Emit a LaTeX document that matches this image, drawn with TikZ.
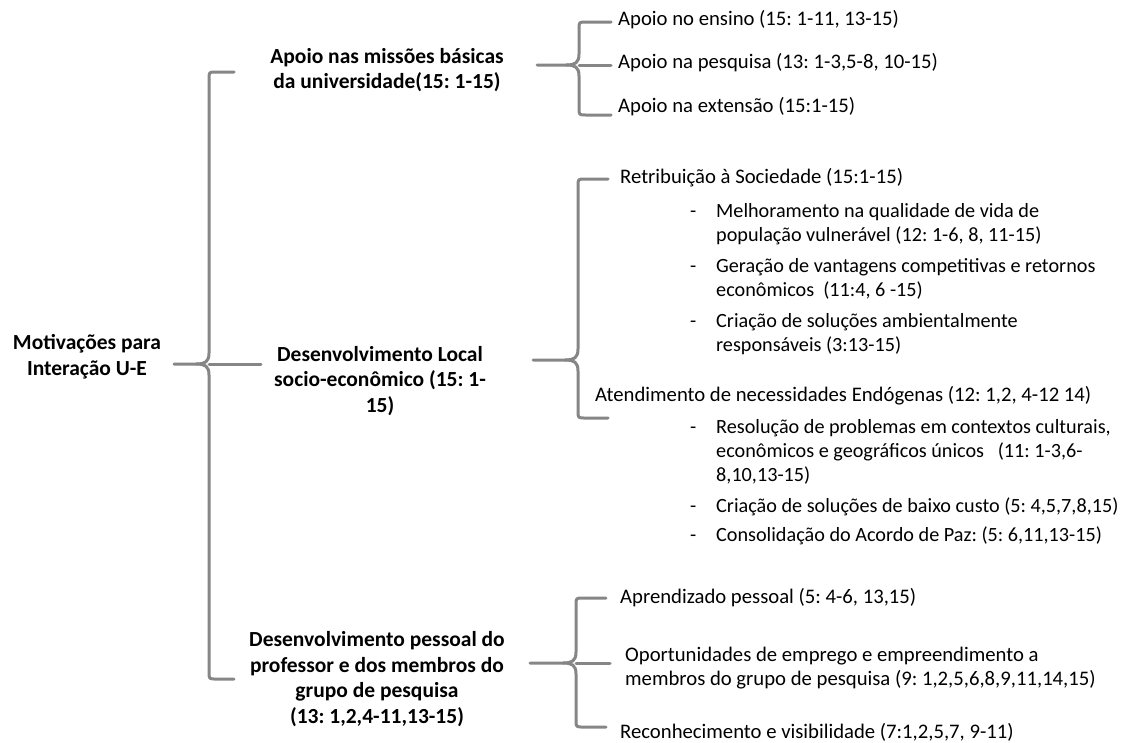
\documentclass[tikz,border=0pt]{standalone}
\usepackage{fontspec}
\setmainfont{Carlito}
\frenchspacing
\definecolor{brgray}{HTML}{868686}
\newcommand\dashitem[1]{\begin{tabular}[c]{@{}p{26pt}@{}l@{}}-&#1\end{tabular}}
% v, top, m, bot, hook x, stub x
\newcommand\curlybr[6]{%
 \draw[br] (#5,#2) -- (#1+7,#2) .. controls (#1,#2) .. (#1,#2+7) -- (#1,#3-11) .. controls (#1,#3-2) and (#1-4,#3) .. (#1-13,#3) -- (#6,#3);
 \draw[br] (#1-13,#3) .. controls (#1-4,#3) and (#1,#3+2) .. (#1,#3+11) -- (#1,#4-7) .. controls (#1,#4) .. (#1+7,#4) -- (#5,#4);
}
\begin{document}
\begin{tikzpicture}[x=1pt,y=-1pt,
  br/.style={draw=brgray, line width=3pt, line cap=round, line join=round},
  head/.style={font=\fontsize{21.5}{25.8}\selectfont\bfseries, align=center, inner sep=0pt},
  item/.style={font=\fontsize{20.7}{24}\selectfont, align=left, inner sep=0pt, anchor=west},
  sub/.style={item, font=\fontsize{20.2}{24}\selectfont}]
\useasboundingbox (0,0) rectangle (1132,742);

% headings
\node[head] (mot) at (87,357) {Motivações para\\Interação U-E};
\node[head] (apoio) at (387,70) {Apoio nas missões básicas\\da universidade(15: 1-15)};
\node[head] (dl) at (380,381) {Desenvolvimento Local\\socio-econômico (15: 1-\\15)};
\node[head] (dp) at (377,679) {Desenvolvimento pessoal do\\professor e dos membros do\\grupo de pesquisa\\(13: 1,2,4-11,13-15)};

% items
\node[item] (a1) at (618,20) {Apoio no ensino (15: 1-11, 13-15)};
\node[item] (a2) at (618,63) {Apoio na pesquisa (13: 1-3,5-8, 10-15)};
\node[item] (a3) at (618,107) {Apoio na extensão (15:1-15)};
\node[item] (r) at (620,178) {Retribuição à Sociedade (15:1-15)};
\node[sub] (r1) at (690,225) {\dashitem{Melhoramento na qualidade de vida de\\&população vulnerável (12: 1-6, 8, 11-15)}};
\node[sub] (r2) at (690,280) {\dashitem{Geração de vantagens competitivas e retornos\\&econômicos\ \ (11:4, 6 -15)}};
\node[sub] (r3) at (690,335) {\dashitem{Criação de soluções ambientalmente\\&responsáveis (3:13-15)}};
\node[item] (e) at (595,396) {Atendimento de necessidades Endógenas (12: 1,2, 4-12 14)};
\node[sub] (e1) at (690,453) {\dashitem{Resolução de problemas em contextos culturais,\\&econômicos e geográficos únicos\ \ \ (11: 1-3,6-\\&8,10,13-15)}};
\node[sub] (e2) at (690,508) {\dashitem{Criação de soluções de baixo custo (5: 4,5,7,8,15)}};
\node[sub] (e3) at (690,537) {\dashitem{Consolidação do Acordo de Paz: (5: 6,11,13-15)}};
\node[item] (p1) at (620,598) {Aprendizado pessoal (5: 4-6, 13,15)};
\node[item] (p2) at (625,668) {Oportunidades de emprego e empreendimento a\\membros do grupo de pesquisa (9: 1,2,5,6,8,9,11,14,15)};
\node[item] (p3) at (620,732) {Reconhecimento e visibilidade (7:1,2,5,7, 9-11)};

% brace key points
\coordinate (m0) at (209,364);
\coordinate (m1) at (579,65);
\coordinate (m2) at (578,360);
\coordinate (m3) at (576,663);

% braces
\curlybr{209}{72}{364}{679}{234}{174}
\draw[br] (m0) -- (261,364);
\curlybr{579}{22}{65}{115}{611}{537}
\draw[br] (m1) -- (611,65);
\curlybr{578}{179}{360}{418}{608}{533}
\curlybr{576}{598}{663}{727}{606}{530}
\draw[br] (m3) -- (610,663);
\end{tikzpicture}
\end{document}
